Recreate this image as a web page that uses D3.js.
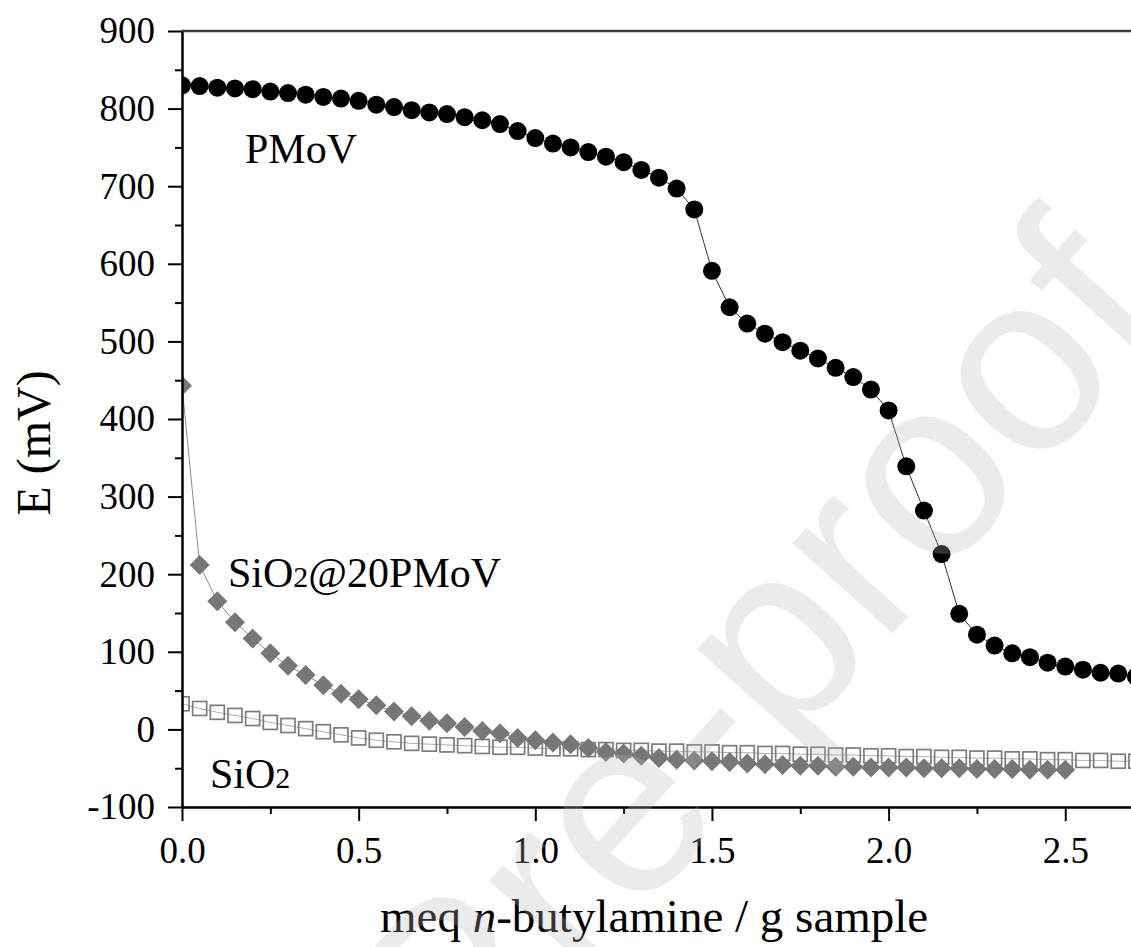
<!DOCTYPE html>
<html>
<head>
    <meta charset="utf-8">
    <title>Potentiometric titration</title>
    <script src="https://d3js.org/d3.v7.min.js"></script>
    <style>
        body { margin: 0; background: #fff; }
        svg { display: block; }
        .axis text { font-family: "Liberation Serif", "Times New Roman", serif; font-size: 37px; fill: #000; }
        .axis path, .axis line { stroke: #000; stroke-width: 2; }
    </style>
</head>
<body>
<script>
// values (meq n-butylamine / g, mV)
var pmovX = [0.00,0.05,0.10,0.15,0.20,0.25,0.30,0.35,0.40,0.45,0.50,0.55,0.60,0.65,0.70,0.75,0.80,0.85,0.90,0.95,
             1.00,1.05,1.10,1.15,1.20,1.25,1.30,1.35,1.40,1.45,1.50,1.55,1.60,1.65,1.70,1.75,1.80,1.85,1.90,1.95,
             2.00,2.05,2.10,2.15,2.20,2.25,2.30,2.35,2.40,2.45,2.50,2.55,2.60,2.65,2.70];
var pmovE = [830,829,827,826,825,822,820,818,815,813,810,805,802,798,795,793,789,785,780,771,
             762,755,750,744,738,731,721,711,697,670,591,544,523,510,499,488,478,466,454,438,
             411,339,282,226,149,122,108,98,93,86,81,77,73,72,68];

var sipX = [0.00,0.05,0.10,0.15,0.20,0.25,0.30,0.35,0.40,0.45,0.50,0.55,0.60,0.65,0.70,0.75,0.80,0.85,0.90,0.95,
            1.00,1.05,1.10,1.15,1.20,1.25,1.30,1.35,1.40,1.45,1.50,1.55,1.60,1.65,1.70,1.75,1.80,1.85,1.90,1.95,
            2.00,2.05,2.10,2.15,2.20,2.25,2.30,2.35,2.40,2.45,2.50];
var sipE = [443,212,165,138,117,98,82,70,57,46,39,31,23,17,11,8,3,-2,-5,-11,
            -14,-17,-19,-24,-29,-31,-34,-37,-39,-40,-41,-42,-44,-45,-46,-47,-47,-48,-48,-49,
            -49,-49,-50,-50,-50,-51,-51,-51,-52,-52,-52];

var sioX = [0.00,0.05,0.10,0.15,0.20,0.25,0.30,0.35,0.40,0.45,0.50,0.55,0.60,0.65,0.70,0.75,0.80,0.85,0.90,0.95,
            1.00,1.05,1.10,1.15,1.20,1.25,1.30,1.35,1.40,1.45,1.50,1.55,1.60,1.65,1.70,1.75,1.80,1.85,1.90,1.95,
            2.00,2.05,2.10,2.15,2.20,2.25,2.30,2.35,2.40,2.45,2.50,2.55,2.60,2.65,2.70];
var sioE = [33,27,22,18,14,9,5,1,-3,-7,-11,-14,-16,-18,-19,-20,-21,-22,-23,-23,
            -24,-25,-25,-26,-26,-27,-27,-28,-28,-29,-29,-30,-30,-31,-31,-32,-32,-33,-33,-34,
            -34,-35,-35,-36,-36,-37,-37,-38,-38,-39,-39,-40,-40,-41,-41];

var xMajor = [0, 0.5, 1.0, 1.5, 2.0, 2.5, 3.0];
var xMinor = [0.25, 0.75, 1.25, 1.75, 2.25, 2.75];
var yMajor = [-100, 0, 100, 200, 300, 400, 500, 600, 700, 800, 900];
var yMinor = [-50, 50, 150, 250, 350, 450, 550, 650, 750, 850];

var W = 1131, H = 947;
var serif = '"Liberation Serif", "Times New Roman", serif';

var svg = d3.select("body").append("svg")
    .attr("width", W)
    .attr("height", H);

var x = d3.scaleLinear().domain([0, 3]).range([182, 182 + 353.3 * 3]),
    y = d3.scaleLinear().domain([-100, 900]).range([807, 31]);

svg.append("clipPath").attr("id", "plot")
    .append("rect")
    .attr("x", x(0)).attr("y", y(900))
    .attr("width", x(3) - x(0)).attr("height", y(-100) - y(900));

var plot = svg.append("g").attr("clip-path", "url(#plot)");

function pts(xs, es) {
    return xs.map(function(v, i) { return [v, es[i]]; });
}
var line = d3.line().x(function(d) { return x(d[0]); }).y(function(d) { return y(d[1]); });

// SiO2 - open squares
var sio = pts(sioX, sioE);
plot.append("path").datum(sio)
    .attr("d", line).attr("fill", "none")
    .attr("stroke", "#b0b0b0").attr("stroke-width", 1);
plot.selectAll(".sq").data(sio).enter().append("rect")
    .attr("class", "sq")
    .attr("x", function(d) { return x(d[0]) - 7; })
    .attr("y", function(d) { return y(d[1]) - 7; })
    .attr("width", 14).attr("height", 14)
    .attr("fill", "none")
    .attr("stroke", "#7c7c7c").attr("stroke-width", 1.7);

// SiO2@20PMoV - grey diamonds
var sip = pts(sipX, sipE);
plot.append("path").datum(sip)
    .attr("d", line).attr("fill", "none")
    .attr("stroke", "#8c8c8c").attr("stroke-width", 1);
plot.selectAll(".dm").data(sip).enter().append("path")
    .attr("class", "dm")
    .attr("d", d3.symbol().type(d3.symbolSquare).size(200))
    .attr("transform", function(d) { return "translate(" + x(d[0]) + "," + y(d[1]) + ") rotate(45)"; })
    .attr("fill", "#777777");

// PMoV - black circles
var pm = pts(pmovX, pmovE);
plot.append("path").datum(pm)
    .attr("d", line).attr("fill", "none")
    .attr("stroke", "#333").attr("stroke-width", 1);
plot.selectAll(".ci").data(pm).enter().append("circle")
    .attr("class", "ci")
    .attr("cx", function(d) { return x(d[0]); })
    .attr("cy", function(d) { return y(d[1]); })
    .attr("r", 9)
    .attr("fill", "#000");

// axes
svg.append("g").attr("class", "axis")
    .attr("transform", "translate(0," + y(-100) + ")")
    .call(d3.axisBottom(x).tickValues(xMajor).tickFormat(d3.format(".1f"))
        .tickSize(14).tickSizeOuter(0).tickPadding(16));
svg.append("g").attr("class", "axis")
    .attr("transform", "translate(0," + y(-100) + ")")
    .call(d3.axisBottom(x).tickValues(xMinor).tickFormat("").tickSize(7).tickSizeOuter(0));

svg.append("g").attr("class", "axis")
    .attr("transform", "translate(" + x(0) + ",0)")
    .call(d3.axisLeft(y).tickValues(yMajor).tickFormat(function(d) { return String(d); })
        .tickSize(14).tickSizeOuter(0).tickPadding(13));
svg.append("g").attr("class", "axis")
    .attr("transform", "translate(" + x(0) + ",0)")
    .call(d3.axisLeft(y).tickValues(yMinor).tickFormat("").tickSize(7).tickSizeOuter(0));

// top frame
svg.append("line")
    .attr("x1", x(0)).attr("x2", x(3))
    .attr("y1", y(900)).attr("y2", y(900))
    .attr("stroke", "#3a3a3a").attr("stroke-width", 2.5);

// axis titles
svg.append("text")
    .attr("transform", "translate(50,443) rotate(-90)")
    .attr("text-anchor", "middle")
    .style("font-family", serif).style("font-size", "48px")
    .text("E (mV)");

var xt = svg.append("text")
    .attr("x", 380).attr("y", 932)
    .style("font-family", serif).style("font-size", "47px");
xt.append("tspan").text("meq ");
xt.append("tspan").style("font-style", "italic").text("n");
xt.append("tspan").text("-butylamine / g sample");

// series labels
function label(px, py, parts) {
    var t = svg.append("text").attr("x", px).attr("y", py)
        .style("font-family", serif).style("font-size", "42px");
    parts.forEach(function(p) {
        var s = t.append("tspan").text(p[0]);
        if (p[1]) s.style("font-size", "30px");
    });
}
label(245, 163, [["PMoV"]]);
label(228, 587, [["SiO"], ["2", true], ["@20PMoV"]]);
label(210, 788, [["SiO"], ["2", true]]);

// faint watermark over the plot
svg.append("text")
    .attr("transform", "translate(1175,320) rotate(-48)")
    .attr("text-anchor", "end")
    .style("font-family", '"Liberation Sans", Arial, sans-serif')
    .style("font-size", "255px")
    .attr("fill", "#b8b8b8").attr("fill-opacity", 0.28)
    .text("Journal Pre-proof");
</script>
</body>
</html>
